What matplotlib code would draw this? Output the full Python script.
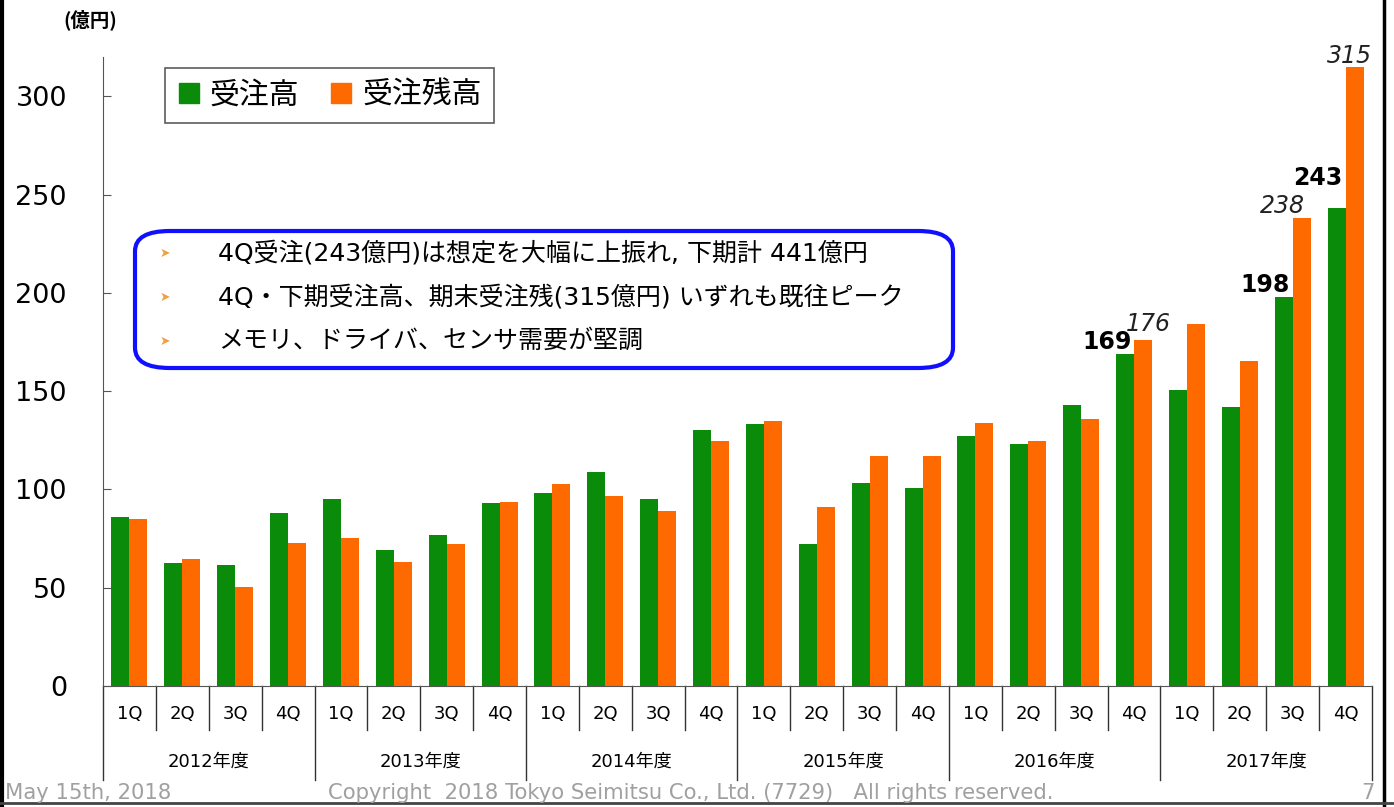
import matplotlib.pyplot as plt
from matplotlib.lines import Line2D
from matplotlib.patches import FancyBboxPatch
import numpy as np

plt.rcParams['font.family'] = ['Noto Sans CJK JP', 'DejaVu Sans']
latin_first = ['DejaVu Sans', 'Noto Sans CJK JP']

# data
years = ["2012年度", "2013年度", "2014年度", "2015年度", "2016年度", "2017年度"]
quarters = ["1Q", "2Q", "3Q", "4Q"]
orders = [86, 62.5, 61.5, 88, 95, 69, 77, 93, 98, 109, 95, 130,
          133.5, 72, 103.5, 100.5, 127, 123, 143, 169, 150.5, 142, 198, 243]
backlog = [85, 64.5, 50.5, 72.5, 75.5, 63, 72, 93.5, 102.5, 96.5, 89, 124.5,
           135, 91, 117, 117, 134, 124.5, 136, 176, 184, 165.5, 238, 315]
bold_labels = {19: "169", 22: "198", 23: "243"}
italic_labels = {19: "176", 22: "238", 23: "315"}
notes = ["4Q受注(243億円)は想定を大幅に上振れ, 下期計 441億円",
         "4Q・下期受注高、期末受注残(315億円) いずれも既往ピーク",
         "メモリ、ドライバ、センサ需要が堅調"]

green = '#0a8c0a'
orange = '#ff6a00'

fig = plt.figure(figsize=(13.94, 8.07), dpi=100)
ax = fig.add_axes([0.0739, 0.15, 0.9103, 0.7794])

x = np.arange(len(orders))
w = 0.34
ax.bar(x - w / 2, orders, w, color=green)
ax.bar(x + w / 2, backlog, w, color=orange)

ax.set_xlim(-0.5, len(orders) - 0.5)
ax.set_ylim(0, 320)
ax.set_yticks([0, 50, 100, 150, 200, 250, 300])
ax.tick_params(axis='y', direction='in', length=6, pad=26, labelsize=19.5, color='#555555')
for lbl in ax.get_yticklabels():
    lbl.set_family('DejaVu Sans')
for s in ['top', 'right']:
    ax.spines[s].set_visible(False)
ax.spines['left'].set_color('#555555')
ax.spines['bottom'].set_color('#555555')

# quarter labels as ticks
ax.set_xticks(x)
ax.set_xticklabels(quarters * len(years), fontsize=13, family='DejaVu Sans')
ax.tick_params(axis='x', length=0, pad=14)

# separators
tr = ax.get_xaxis_transform()
for b in range(len(orders) + 1):
    bottom = -0.149 if b % 4 == 0 else -0.07
    ax.plot([b - 0.5, b - 0.5], [0, bottom], color='#333333', lw=1,
            transform=tr, clip_on=False)
for i, yr in enumerate(years):
    ax.text(i * 4 + 1.5, -0.12, yr, transform=tr, ha='center', va='center',
            fontsize=13, family=latin_first)

# value labels
bold_off = {19: (-2, 0), 22: (-2, 0), 23: (-2, 13)}
ital_off = {19: (4, 3), 22: (-14, 0), 23: (-4, -1)}
for i, t in bold_labels.items():
    ax.annotate(t, (x[i], orders[i]), xytext=bold_off[i], textcoords='offset points',
                ha='right', va='bottom', fontsize=17, fontweight='bold', family='DejaVu Sans')
for i, t in italic_labels.items():
    ax.annotate(t, (x[i] + w / 2, backlog[i]), xytext=ital_off[i], textcoords='offset points',
                ha='center', va='bottom', fontsize=17, fontstyle='italic', family='DejaVu Sans',
                color='#222222')

# legend
handles = [Line2D([], [], marker='s', ls='', color=green, markersize=15),
           Line2D([], [], marker='s', ls='', color=orange, markersize=15)]
leg = ax.legend(handles, ["受注高", "受注残高"], loc='upper left',
                bbox_to_anchor=(0.0489, 0.9825), borderaxespad=0,
                ncol=2, fontsize=21.5, frameon=True, fancybox=False, edgecolor='#333333',
                handlelength=0.8, handletextpad=0.3, columnspacing=1.0, borderpad=0.4)
leg.get_frame().set_linewidth(1.2)

# note box
box = FancyBboxPatch((135 / 1394, 1 - 368 / 807), (953 - 135) / 1394, (368 - 231) / 807,
                     boxstyle='round,pad=0,rounding_size=0.025', transform=fig.transFigure,
                     fc='white', ec='#1010ff', lw=3, zorder=5)
fig.add_artist(box)
for k, line in enumerate(notes):
    yy = 1 - (253 + k * 44) / 807
    fig.text(160 / 1394, yy, '➤', color='#f0a040', fontsize=9, va='center',
             family='DejaVu Sans', zorder=6)
    fig.text(218 / 1394, yy, line, fontsize=18, va='center', zorder=6, family=latin_first)

# unit and footer
fig.text(63 / 1394, 1 - 20 / 807, "(億円)", fontsize=14, fontweight='bold', va='center')
foot = dict(fontsize=15.2, color='#a0a0a0', va='center', family='DejaVu Sans')
fig.text(5 / 1394, 1 - 793 / 807, "May 15th, 2018", **foot)
fig.text(691 / 1394, 1 - 793 / 807,
         "Copyright  2018 Tokyo Seimitsu Co., Ltd. (7729)   All rights reserved.",
         ha='center', **foot)
fig.text(1375 / 1394, 1 - 793 / 807, "7", ha='right', **foot)

# frame of the slide
fig.add_artist(Line2D([2 / 1394, 2 / 1394], [0, 1], color='black', lw=3, transform=fig.transFigure))
fig.add_artist(Line2D([1384 / 1394, 1384 / 1394], [0, 1], color='black', lw=2.5, transform=fig.transFigure))
fig.add_artist(Line2D([0, 1], [4 / 807, 4 / 807], color='#444444', lw=2, transform=fig.transFigure))

fig.savefig('out.png', dpi=100)
